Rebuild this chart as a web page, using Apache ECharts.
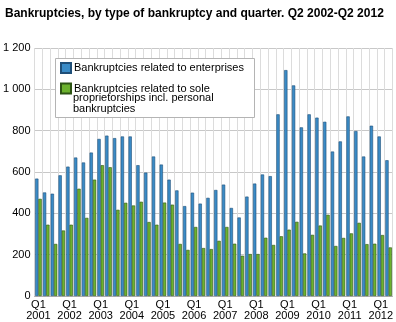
<!DOCTYPE html>
<html>
<head>
<meta charset="utf-8">
<script src="https://cdn.jsdelivr.net/npm/echarts@6/dist/echarts.min.js"></script>
<style>
  html, body { margin: 0; padding: 0; background: #fff; }
  #chart { width: 396px; height: 322px; }
</style>
</head>
<body>
<div id="chart"></div>
<script>
// Quarterly bankruptcies, Q1 2001 – Q2 2012
const quarters = [
  '2001Q1','2001Q2','2001Q3','2001Q4','2002Q1','2002Q2','2002Q3','2002Q4',
  '2003Q1','2003Q2','2003Q3','2003Q4','2004Q1','2004Q2','2004Q3','2004Q4',
  '2005Q1','2005Q2','2005Q3','2005Q4','2006Q1','2006Q2','2006Q3','2006Q4',
  '2007Q1','2007Q2','2007Q3','2007Q4','2008Q1','2008Q2','2008Q3','2008Q4',
  '2009Q1','2009Q2','2009Q3','2009Q4','2010Q1','2010Q2','2010Q3','2010Q4',
  '2011Q1','2011Q2','2011Q3','2011Q4','2012Q1','2012Q2'
];

const enterprises = [
  568, 501, 495, 584, 626, 670, 646, 694,
  760, 776, 764, 772, 772, 633, 597, 675,
  636, 563, 511, 435, 500, 447, 475, 513,
  539, 426, 380, 481, 544, 588, 580, 879,
  1093, 1019, 816, 879, 863, 843, 699, 748,
  869, 798, 675, 824, 772, 657
];

const soleProprietorships = [
  470, 345, 252, 317, 345, 519, 378, 563,
  633, 623, 417, 451, 438, 456, 358, 345,
  452, 442, 252, 223, 334, 232, 227, 267,
  334, 253, 195, 203, 203, 282, 247, 289,
  321, 359, 206, 296, 341, 393, 242, 281,
  303, 354, 251, 253, 295, 235
];

const seriesNames = [
  'Bankruptcies related to enterprises',
  'Bankruptcies related to sole\nproprietorships incl. personal\nbankruptcies'
];

const yTicks = { min: 0, max: 1200, interval: 200 };

const FONT = '"Liberation Sans", Arial, sans-serif';
const LINE_H = 11.4;

// Legend frame and the wrapped continuation lines of the second entry
const LEGEND_BOX = { x: 55.5, y: 58.5, width: 199, height: 59 };
const LEGEND_TEXT_X = 73;
const LEGEND_ITEM2_Y = 86.5;

const wrapLines = seriesNames[1].split('\n').slice(1);

const chart = echarts.init(document.getElementById('chart'), null, { renderer: 'canvas' });

chart.setOption({
  animation: false,
  backgroundColor: '#ffffff',
  textStyle: { fontFamily: FONT },
  title: {
    text: 'Bankruptcies, by type of bankruptcy and quarter. Q2 2002-Q2 2012',
    left: 0,
    top: 3,
    textStyle: { fontFamily: FONT, fontSize: 12, fontWeight: 'bold', color: '#000' }
  },
  graphic: [
    {
      type: 'rect',
      z: 1,
      shape: LEGEND_BOX,
      style: { fill: '#ffffff', stroke: '#b4b4b4', lineWidth: 1 }
    }
  ].concat(wrapLines.map(function (line, i) {
    return {
      type: 'text',
      z: 10,
      x: LEGEND_TEXT_X,
      y: LEGEND_ITEM2_Y + LINE_H * (i + 1),
      style: {
        text: line,
        font: '11px ' + FONT,
        fill: '#000',
        textVerticalAlign: 'middle',
        verticalAlign: 'middle'
      }
    };
  })),
  legend: {
    data: seriesNames,
    orient: 'vertical',
    left: 60,
    top: 62,
    padding: 0,
    itemGap: 8.6,
    itemWidth: 10,
    itemHeight: 10,
    icon: 'rect',
    formatter: function (name) { return name.split('\n')[0]; },
    textStyle: {
      fontFamily: FONT,
      fontSize: 11,
      color: '#000',
      lineHeight: LINE_H,
      padding: [0, 0, 0, -2]
    }
  },
  grid: {
    left: 34,
    right: 0,
    top: 48,
    bottom: 26,
    containLabel: false
  },
  xAxis: {
    type: 'category',
    data: quarters,
    boundaryGap: true,
    axisLine: { show: true, lineStyle: { color: '#b0b0b0', width: 1 } },
    axisTick: { show: false },
    splitLine: { show: true, interval: 0, lineStyle: { color: '#dcdcdc', width: 1 } },
    axisLabel: {
      interval: 3,
      margin: 3,
      fontFamily: FONT,
      fontSize: 11,
      lineHeight: 11,
      color: '#000',
      formatter: function (v) { return v.slice(4) + '\n' + v.slice(0, 4); }
    }
  },
  yAxis: {
    type: 'value',
    min: yTicks.min,
    max: yTicks.max,
    interval: yTicks.interval,
    axisLine: { show: false },
    axisTick: { show: false },
    splitLine: { show: true, lineStyle: { color: '#c8c8c8', width: 1 } },
    axisLabel: {
      margin: 4,
      fontFamily: FONT,
      fontSize: 11,
      color: '#000',
      formatter: function (v) {
        return String(v).replace(/\B(?=(\d{3})+(?!\d))/g, ' ');
      }
    }
  },
  series: [
    {
      name: seriesNames[0],
      type: 'bar',
      data: enterprises,
      barWidth: 3.3,
      barGap: '0%',
      itemStyle: {
        color: '#3a8bc6',
        borderColor: '#1f4f78',
        borderWidth: 0.6
      }
    },
    {
      name: seriesNames[1],
      type: 'bar',
      data: soleProprietorships,
      barWidth: 3.3,
      barGap: '0%',
      itemStyle: {
        color: '#6cb22e',
        borderColor: '#2d5414',
        borderWidth: 0.6
      }
    }
  ]
});
</script>
</body>
</html>
